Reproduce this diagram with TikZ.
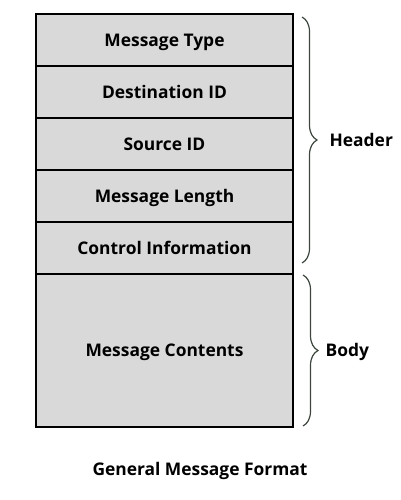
\documentclass[tikz,border=0pt]{standalone}
\usepackage{fontspec}
\setmainfont{Open Sans}
\usetikzlibrary{positioning, decorations.pathreplacing}
\definecolor{fieldgray}{HTML}{D9D9D9}
\definecolor{bracegray}{HTML}{3C463C}
\tikzset{
  field/.style={draw, line width=1.8pt, fill=fieldgray, outer sep=0pt, inner sep=0pt,
    minimum width=257pt, minimum height=52pt, text height=12.5pt, text depth=0pt,
    font=\bfseries\fontsize{17.4}{20}\selectfont},
  brace/.style={draw=bracegray, line width=1.2pt, decorate,
    decoration={brace, amplitude=15pt}},
  label/.style={inner sep=0pt, anchor=west, text height=12.5pt, text depth=0pt,
    font=\bfseries\fontsize{17.4}{20}\selectfont}
}

\begin{document}
\begin{tikzpicture}[>=latex, x=1pt, y=-1pt]
\useasboundingbox (0,0) rectangle (400,500);
\node[field] (mtype) at (164.5,40) {Message Type};
\node[field, below=0pt of mtype] (dest) {Destination ID};
\node[field, below=0pt of dest] (src) {Source ID};
\node[field, below=0pt of src] (mlen) {Message Length};
\node[field, below=0pt of mlen] (ctrl) {Control Information};
\node[field, below=0pt of ctrl, minimum height=153pt] (body) {Message Contents};
% braces
\draw[brace] ([xshift=9pt,yshift=-3pt]mtype.north east) -- ([xshift=9pt,yshift=11pt]ctrl.south east)
  node[label, midway, xshift=27pt] {Header};
\draw[brace] ([xshift=10pt,yshift=-1pt]body.north east) -- ([xshift=10pt,yshift=1pt]body.south east)
  node[label, midway, xshift=22pt] {Body};
\node[label, anchor=center] (title) at (200,469.5) {General Message Format};
\end{tikzpicture}
\end{document}
